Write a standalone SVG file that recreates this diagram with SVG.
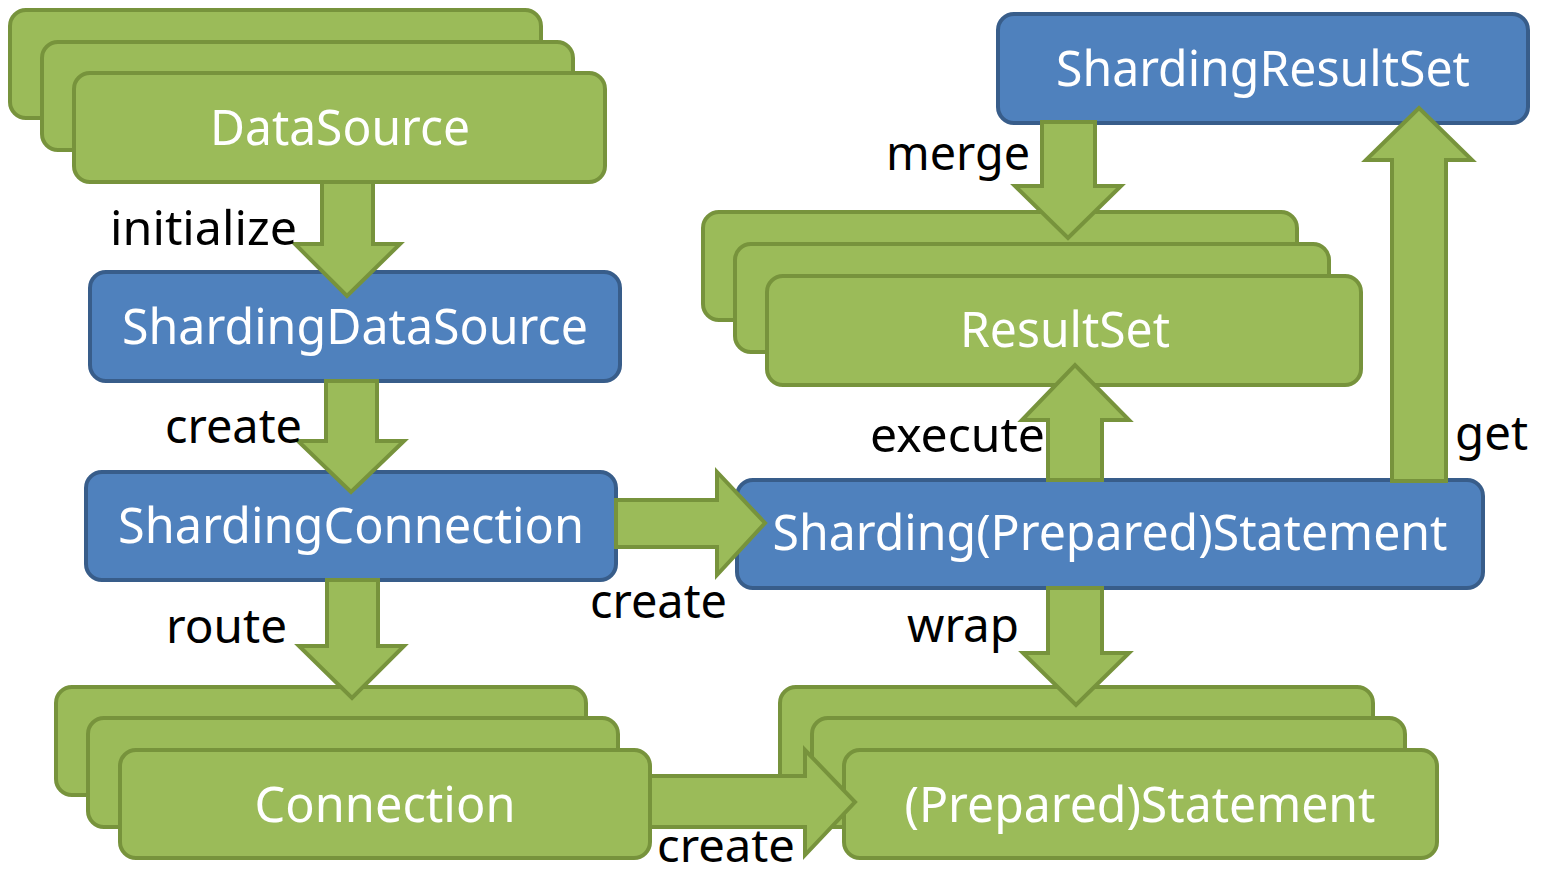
<svg xmlns="http://www.w3.org/2000/svg" width="1541" height="875" viewBox="0 0 1541 875">
<style>
.g{fill:#9BBB59;stroke:#77933C;stroke-width:4}
.b{fill:#4F81BD;stroke:#385D8A;stroke-width:4}
.a{fill:#9BBB59;stroke:#77933C;stroke-width:4;stroke-linejoin:miter}
.t{font-family:"Noto Sans","Open Sans",sans-serif;font-size:50px;fill:#FFFFFF;text-anchor:middle}
.l{font-family:"Noto Sans","Open Sans",sans-serif;font-size:48px;fill:#000000}
</style>
<rect width="1541" height="875" fill="#FFFFFF"/>
<g id="nodes">
<g id="datasource">
<rect class="g" x="10" y="10" width="531" height="108" rx="16"/>
<rect class="g" x="42" y="42" width="531" height="108" rx="16"/>
<rect class="g" x="74" y="73" width="531" height="109" rx="16"/>
<text class="t" x="340" y="145" textLength="260" lengthAdjust="spacingAndGlyphs">DataSource</text>
</g>
<g id="shardingdatasource">
<rect class="b" x="90" y="272" width="530" height="109" rx="16"/>
<text class="t" x="355" y="344" textLength="466" lengthAdjust="spacingAndGlyphs">ShardingDataSource</text>
</g>
<g id="shardingconnection">
<rect class="b" x="86" y="472" width="530" height="108" rx="16"/>
<text class="t" x="351" y="543" textLength="466" lengthAdjust="spacingAndGlyphs">ShardingConnection</text>
</g>
<g id="shardingstatement">
<rect class="b" x="737" y="480" width="746" height="108" rx="16"/>
<text class="t" x="1110" y="550" textLength="675" lengthAdjust="spacingAndGlyphs">Sharding(Prepared)Statement</text>
</g>
<g id="connection">
<rect class="g" x="56" y="687" width="530" height="108" rx="16"/>
<rect class="g" x="88" y="718" width="530" height="109" rx="16"/>
<rect class="g" x="120" y="750" width="530" height="108" rx="16"/>
<text class="t" x="385" y="822" textLength="261" lengthAdjust="spacingAndGlyphs">Connection</text>
</g>
<g id="statement">
<rect class="g" x="780" y="687" width="593" height="108" rx="16"/>
<rect class="g" x="812" y="718" width="593" height="109" rx="16"/>
<rect class="g" x="844" y="750" width="593" height="108" rx="16"/>
<text class="t" x="1140" y="822" textLength="471" lengthAdjust="spacingAndGlyphs">(Prepared)Statement</text>
</g>
<g id="resultset">
<rect class="g" x="703" y="212" width="594" height="108" rx="16"/>
<rect class="g" x="735" y="244" width="594" height="108" rx="16"/>
<rect class="g" x="767" y="276" width="594" height="109" rx="16"/>
<text class="t" x="1065" y="347" textLength="210" lengthAdjust="spacingAndGlyphs">ResultSet</text>
</g>
<g id="shardingresultset">
<rect class="b" x="998" y="14" width="530" height="109" rx="16"/>
<text class="t" x="1263" y="86" textLength="414" lengthAdjust="spacingAndGlyphs">ShardingResultSet</text>
</g>
</g>
<g id="connectors">
<path class="a" d="M322,182 L373,182 L373,244 L400,244 L347,296 L295,244 L322,244 Z"/>
<path class="a" d="M326,381 L377,381 L377,441 L404,441 L351,492 L298,441 L326,441 Z"/>
<path class="a" d="M327,580 L378,580 L378,646 L404,646 L352,698 L299,646 L327,646 Z"/>
<path class="a" d="M1048,588 L1102,588 L1102,653 L1129,653 L1076,705 L1023,653 L1048,653 Z"/>
<path class="a" d="M1042,122 L1095,122 L1095,186 L1121,186 L1068,238 L1015,186 L1042,186 Z"/>
<path class="a" d="M1048,480 L1048,420 L1022,420 L1075,365 L1129,420 L1102,420 L1102,480 Z"/>
<path class="a" d="M1392,481 L1392,160 L1366,160 L1419,108 L1472,160 L1446,160 L1446,481 Z"/>
<path class="a" d="M616,500 L717,500 L717,472 L765,523 L717,575 L717,547 L616,547 Z"/>
<path class="a" d="M650,776 L805,776 L805,750 L855,802 L805,855 L805,827 L650,827 Z"/>
</g>
<g id="labels">
<text class="l" x="110" y="245" textLength="187" lengthAdjust="spacingAndGlyphs">initialize</text>
<text class="l" x="165" y="443" textLength="137" lengthAdjust="spacingAndGlyphs">create</text>
<text class="l" x="590" y="618" textLength="137" lengthAdjust="spacingAndGlyphs">create</text>
<text class="l" x="166" y="643" textLength="121" lengthAdjust="spacingAndGlyphs">route</text>
<text class="l" x="657" y="862" textLength="138" lengthAdjust="spacingAndGlyphs" style="font-size:46px">create</text>
<text class="l" x="907" y="642" textLength="112" lengthAdjust="spacingAndGlyphs">wrap</text>
<text class="l" x="886" y="170" textLength="144" lengthAdjust="spacingAndGlyphs">merge</text>
<text class="l" x="870" y="452" textLength="175" lengthAdjust="spacingAndGlyphs">execute</text>
<text class="l" x="1455" y="450" textLength="73" lengthAdjust="spacingAndGlyphs">get</text>
</g>
</svg>
